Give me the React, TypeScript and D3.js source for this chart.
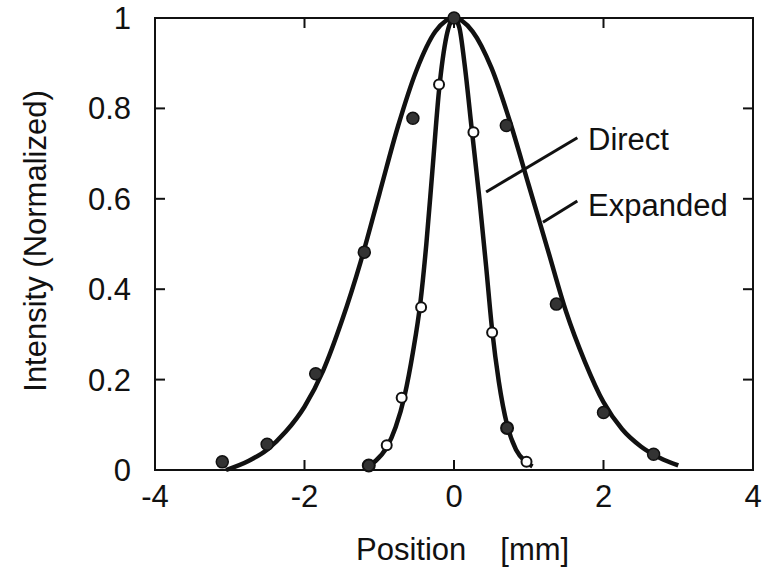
import React from "react";
import * as d3 from "d3";

// Fitted curve: Expanded
const expandedCurveX = [-3.05, -2.75, -2.5, -2.25, -2.0, -1.75, -1.5, -1.25, -1.0, -0.75, -0.5, -0.25, 0, 0.25, 0.5, 0.75, 1.0, 1.25, 1.5, 1.75, 2.0, 2.25, 2.5, 2.75, 3.0];
const expandedCurveY = [0.0, 0.02, 0.045, 0.085, 0.14, 0.22, 0.33, 0.46, 0.61, 0.76, 0.885, 0.97, 1.0, 0.97, 0.89, 0.77, 0.63, 0.49, 0.35, 0.24, 0.15, 0.09, 0.052, 0.027, 0.01];

// Fitted curve: Direct
const directCurveX = [-1.2, -1.05, -0.9, -0.78, -0.66, -0.55, -0.45, -0.37, -0.29, -0.2, -0.1, 0, 0.07, 0.14, 0.24, 0.34, 0.43, 0.51, 0.6, 0.71, 0.83, 0.96, 1.05];
const directCurveY = [0.005, 0.02, 0.05, 0.095, 0.165, 0.26, 0.37, 0.5, 0.66, 0.84, 0.96, 1.0, 0.98, 0.9, 0.75, 0.6, 0.45, 0.31, 0.195, 0.1, 0.045, 0.018, 0.008];

// Measured points
const expandedX = [-3.1, -2.5, -1.85, -1.2, -0.55, 0, 0.7, 1.37, 2.0, 2.67];
const expandedY = [0.018, 0.057, 0.213, 0.482, 0.778, 1.0, 0.762, 0.367, 0.127, 0.035];
const directX = [-1.14, -0.9, -0.7, -0.44, -0.2, 0.26, 0.51, 0.71, 0.97];
const directY = [0.01, 0.055, 0.16, 0.36, 0.853, 0.747, 0.304, 0.093, 0.018];
const directFilled = [true, false, false, false, false, false, false, true, false];

const xTicks = [-4, -2, 0, 2, 4];
const yTicks = [0, 0.2, 0.4, 0.6, 0.8, 1];
const xTickLabels = ["-4", "-2", "0", "2", "4"];
const yTickLabels = ["0", "0.2", "0.4", "0.6", "0.8", "1"];

const W = 765, H = 571;
const L = 155, R = 753, T = 18, B = 470;
const FONT = "'Liberation Sans', Arial, Helvetica, sans-serif";
const INK = "#111";
const FS = 31;

export default function App() {
  const x = d3.scaleLinear().domain([-4, 4]).range([L, R]);
  const y = d3.scaleLinear().domain([0, 1]).range([B, T]);

  const expPath = d3
    .line<number>()
    .x((d) => x(d))
    .y((_, i) => y(expandedCurveY[i]))
    .curve(d3.curveMonotoneX)(expandedCurveX) as string;
  const dirPath = d3
    .line<number>()
    .x((d) => x(d))
    .y((_, i) => y(directCurveY[i]))
    .curve(d3.curveMonotoneX)(directCurveX) as string;

  const tickLen = 10;

  return (
    <svg width={W} height={H} style={{ position: "absolute", left: 0, top: 0, background: "#fff" }} fontFamily={FONT}>
      <rect x={0} y={0} width={W} height={H} fill="#fff" />
      {/* frame */}
      <rect x={L} y={T} width={R - L} height={B - T} fill="none" stroke={INK} strokeWidth={2} />
      {/* ticks */}
      {xTicks.slice(1, -1).map((t) => (
        <g key={"xt" + t}>
          <line x1={x(t)} x2={x(t)} y1={B} y2={B - tickLen} stroke={INK} strokeWidth={2} />
          <line x1={x(t)} x2={x(t)} y1={T} y2={T + tickLen} stroke={INK} strokeWidth={2} />
        </g>
      ))}
      {yTicks.slice(1, -1).map((t) => (
        <g key={"yt" + t}>
          <line x1={L} x2={L + tickLen} y1={y(t)} y2={y(t)} stroke={INK} strokeWidth={2} />
          <line x1={R} x2={R - tickLen} y1={y(t)} y2={y(t)} stroke={INK} strokeWidth={2} />
        </g>
      ))}
      {xTicks.map((t, i) => (
        <text key={"xl" + t} x={x(t)} y={507} textAnchor="middle" fontSize={FS} fill={INK}>
          {xTickLabels[i]}
        </text>
      ))}
      {yTicks.map((t, i) => (
        <text key={"yl" + t} x={131} y={y(t) + 11} textAnchor="end" fontSize={FS} fill={INK}>
          {yTickLabels[i]}
        </text>
      ))}
      {/* axis titles */}
      <text x={356} y={560} fontSize={FS} fill={INK}>
        <tspan>Position</tspan>
        <tspan dx={34}>[mm]</tspan>
      </text>
      <text transform="translate(46,241) rotate(-90)" textAnchor="middle" fontSize={FS} fill={INK}>
        Intensity (Normalized)
      </text>
      {/* curves */}
      <path d={expPath} fill="none" stroke={INK} strokeWidth={4.5} strokeLinejoin="round" />
      <path d={dirPath} fill="none" stroke={INK} strokeWidth={4.5} strokeLinejoin="round" />
      {/* points */}
      {expandedX.map((v, i) => (
        <circle key={"e" + i} cx={x(v)} cy={y(expandedY[i])} r={6} fill="#333" stroke={INK} strokeWidth={1.5} />
      ))}
      {directX.map((v, i) => (
        <circle
          key={"d" + i}
          cx={x(v)}
          cy={y(directY[i])}
          r={directFilled[i] ? 6 : 5}
          fill={directFilled[i] ? "#333" : "#fff"}
          stroke={INK}
          strokeWidth={2}
        />
      ))}
      {/* labels with leader lines */}
      <line x1={x(0.43)} y1={y(0.615)} x2={x(1.65)} y2={y(0.735)} stroke={INK} strokeWidth={3} />
      <text x={588} y={150} fontSize={FS} fill={INK}>Direct</text>
      <line x1={x(1.19)} y1={y(0.548)} x2={x(1.65)} y2={y(0.595)} stroke={INK} strokeWidth={3} />
      <text x={588} y={216} fontSize={FS} fill={INK}>Expanded</text>
    </svg>
  );
}
